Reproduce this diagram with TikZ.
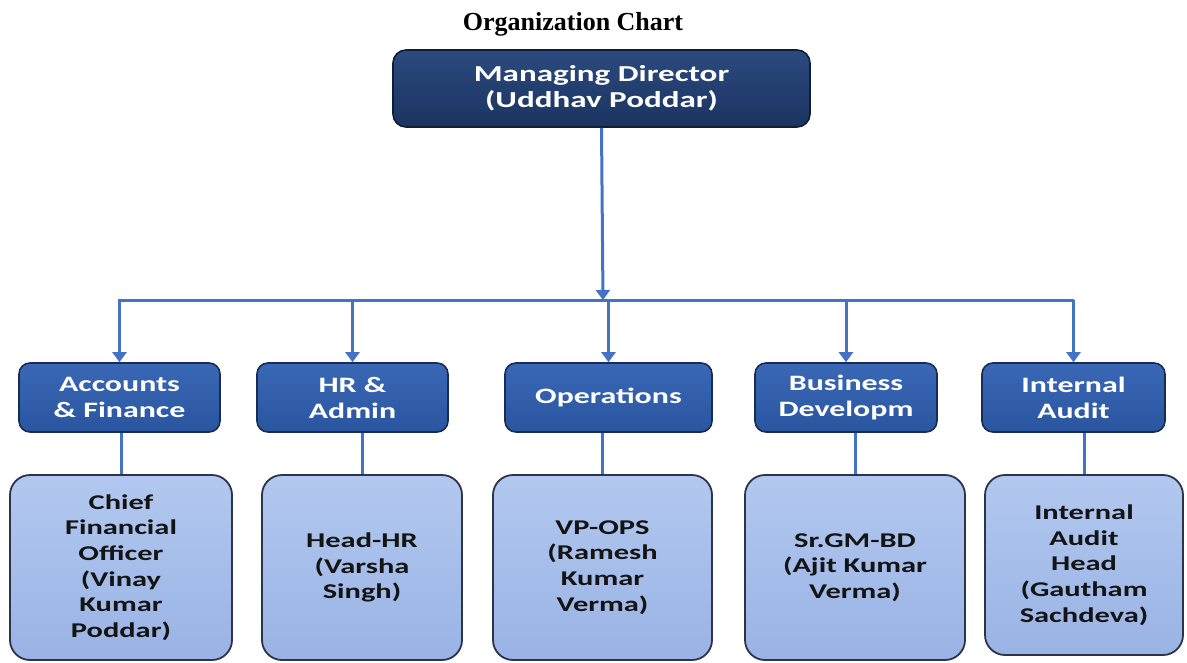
\documentclass[tikz,border=0pt]{standalone}
\usepackage{fontspec}
\setmainfont{Liberation Serif}
\newfontfamily\boxfont[FakeStretch=1.45]{Carlito}
\usetikzlibrary{arrows.meta}
\definecolor{mdtop}{HTML}{2B4A7E}
\definecolor{mdbot}{HTML}{1B3461}
\definecolor{mdline}{HTML}{0E1D38}
\definecolor{dtop}{HTML}{3A68B6}
\definecolor{dbot}{HTML}{2A559F}
\definecolor{dline}{HTML}{182D55}
\definecolor{htop}{HTML}{B2C8F0}
\definecolor{hbot}{HTML}{9AB3E4}
\definecolor{hline}{HTML}{2B3448}
\definecolor{conn}{HTML}{4472C4}
\definecolor{htext}{HTML}{141414}
\begin{document}
\begin{tikzpicture}[x=1pt,y=-1pt,
  mdbox/.style={rounded corners=13pt, draw=mdline, line width=1.6pt, top color=mdtop, bottom color=mdbot,
    text=white, font=\boxfont\bfseries\fontsize{22.8}{25}\selectfont, align=center, inner sep=0pt},
  deptbox/.style={rounded corners=11pt, draw=dline, line width=1.6pt, top color=dtop, bottom color=dbot,
    text=white, font=\boxfont\bfseries\fontsize{22}{26}\selectfont, align=center, inner sep=0pt,
    minimum height=69pt},
  headbox/.style={rounded corners=20pt, draw=hline, line width=1.8pt, top color=htop, bottom color=hbot,
    text=htext, font=\boxfont\bfseries\fontsize{21}{25.7}\selectfont, align=center, inner sep=0pt},
  link/.style={draw=conn, line width=3pt},
  arr/.style={link, -{Triangle[width=14pt,length=10pt]}}
]
\useasboundingbox (0,0) rectangle (1187,662);

\node[font=\bfseries\fontsize{26}{30}\selectfont] (title) at (573,24) {Organization Chart};

\node[mdbox, minimum width=417pt, minimum height=77pt] (md) at (601.5,88.5) {\raisebox{-3pt}{\shortstack{Managing Director\\[2pt](Uddhav Poddar)}}};

\node[deptbox, minimum width=201pt] (acc) at (119.5,397.5) {Accounts\\\& Finance};
\node[deptbox, minimum width=191pt] (hr) at (352.5,397.5) {HR \&\\Admin};
\node[deptbox, minimum width=207pt] (ops) at (608.5,397.5) {Operations};
\node[deptbox, minimum width=182pt] (bd) at (846,397.5) {Business\\Developm};
\node[deptbox, minimum width=183pt] (ia) at (1073.5,397.5) {Internal\\Audit};

\node[headbox, minimum width=222pt, minimum height=185pt] (cfo) at (121,567.5) {Chief\\Financial\\Officer\\(Vinay\\Kumar\\Poddar)};
\node[headbox, minimum width=200pt, minimum height=185pt] (hhr) at (362,567.5) {Head-HR\\(Varsha\\Singh)};
\node[headbox, minimum width=219pt, minimum height=185pt] (vp) at (602.5,567.5) {VP-OPS\\(Ramesh\\Kumar\\Verma)};
\node[headbox, minimum width=220pt, minimum height=185pt] (gm) at (855,567.5) {Sr.GM-BD\\(Ajit Kumar\\Verma)};
\node[headbox, minimum width=198pt, minimum height=180pt] (iah) at (1084,565) {Internal\\Audit\\Head\\(Gautham\\Sachdeva)};

\coordinate (busL) at (118,300);
\coordinate (busR) at (1074,300);
\coordinate (busM) at (603,300);

\draw[link] (busL) -- (busR);
\draw[arr] (md.south) -- (busM);
\foreach \n in {acc,hr,ops,bd,ia}{
  \draw[arr] (\n.north |- busL) -- (\n.north);
}
\draw[link] (cfo.north |- acc.south) -- (cfo.north);
\draw[link] (hhr.north |- hr.south) -- (hhr.north);
\draw[link] (vp.north |- ops.south) -- (vp.north);
\draw[link] (gm.north |- bd.south) -- (gm.north);
\draw[link] (iah.north |- ia.south) -- (iah.north);
\end{tikzpicture}
\end{document}
